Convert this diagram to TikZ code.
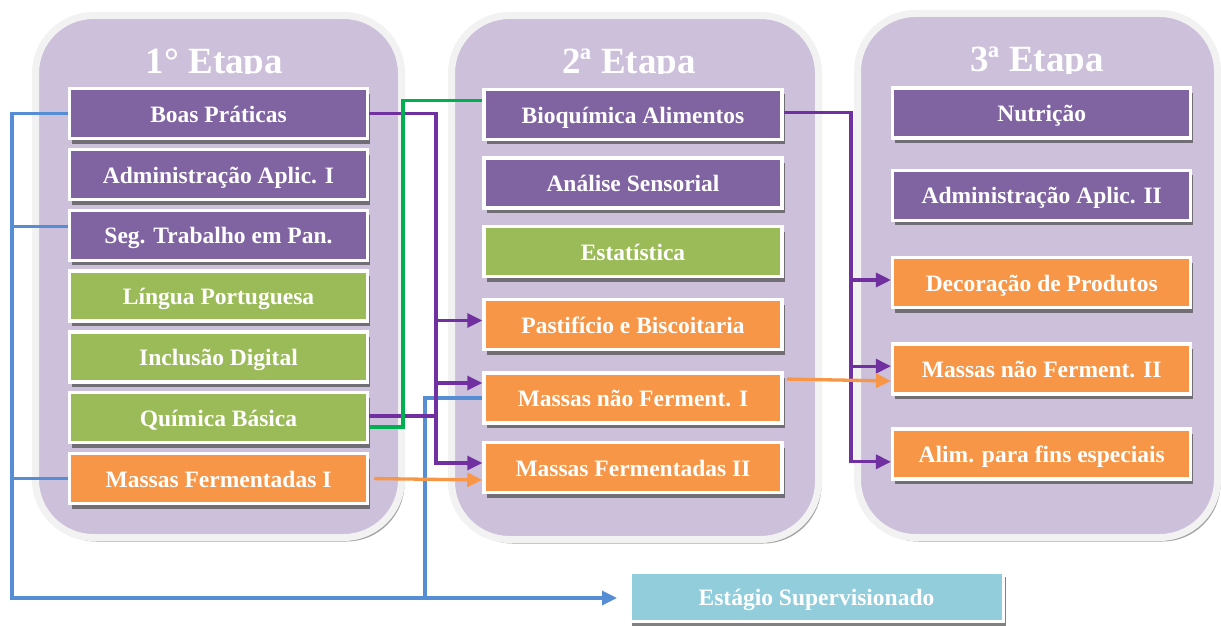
\documentclass[tikz,border=0pt]{standalone}
\usepackage{fontspec}
\setmainfont{Liberation Serif}
\usetikzlibrary{arrows.meta, positioning, shadows}

\definecolor{etapafill}{HTML}{CCC0DA}
\definecolor{etapaborda}{HTML}{F2F2F2}
\definecolor{roxo}{HTML}{8064A2}
\definecolor{verde}{HTML}{9BBB59}
\definecolor{laranja}{HTML}{F79646}
\definecolor{azulclaro}{HTML}{92CDDC}
\definecolor{linhaazul}{HTML}{558ED5}
\definecolor{linharoxa}{HTML}{7030A0}
\definecolor{linhaverde}{HTML}{00B050}

\tikzstyle{etapa} = [rectangle, rounded corners=58pt, fill=etapafill, draw=etapaborda, line width=7pt, drop shadow={shadow xshift=3pt, shadow yshift=-4pt, fill=black!60, opacity=0.6}]
\tikzstyle{titulo} = [font={\fontsize{37}{40}\selectfont\bfseries}, text=white, anchor=base, inner sep=0pt]
\tikzstyle{disciplina} = [rectangle, minimum width=298pt, minimum height=50pt, text height=19pt, text depth=2pt, text centered, draw=white, line width=3.5pt, text=white, font={\fontsize{23.5}{26}\selectfont\bfseries}, drop shadow={shadow xshift=2.5pt, shadow yshift=-5pt, fill=black!70, opacity=0.7}]
\tikzstyle{gestao} = [disciplina, fill=roxo]
\tikzstyle{basica} = [disciplina, fill=verde]
\tikzstyle{pratica} = [disciplina, fill=laranja]
\tikzstyle{bus} = [line width=3.3pt]
\tikzstyle{seta} = [line width=3.3pt, -{Triangle[length=15pt, width=14pt]}]

\begin{document}
\begin{tikzpicture}[x=1pt, y=-1pt]
    \fill[white] (0,0) rectangle (1221,626);
    \useasboundingbox (0,0) rectangle (1221,626);

    \node (etapa1) [etapa, minimum width=366pt, minimum height=522pt] at (218.5,276.5) {};
    \node (etapa2) [etapa, minimum width=367pt, minimum height=524pt] at (635,277.5) {};
    \node (etapa3) [etapa, minimum width=360pt, minimum height=524pt] at (1037.5,275.5) {};

    \begin{scope}
        \clip (0,0) rectangle (1221,74);
        \node (titulo1) [titulo] at (214.5,73.5) {1° Etapa};
        \node (titulo2) [titulo] at (629,73.5) {2ª Etapa};
        \node (titulo3) [titulo] at (1037,72) {3ª Etapa};
    \end{scope}

    % 1a etapa
    \node (boas) [gestao] at (218.5,113.7) {Boas Práticas};
    \node (adm1) [gestao, below=7.3pt of boas] {Administração Aplic. I};
    \node (seg) [gestao, below=7.3pt of adm1] {Seg. Trabalho em Pan.};
    \node (lingua) [basica, below=7.3pt of seg] {Língua Portuguesa};
    \node (inclusao) [basica, below=7.3pt of lingua] {Inclusão Digital};
    \node (quimica) [basica, below=7.3pt of inclusao] {Química Básica};
    \node (mferm1) [pratica, below=7.3pt of quimica] {Massas Fermentadas I};

    % 2a etapa
    \node (bioq) [gestao, text depth=0pt] at (633,114.3) {Bioquímica Alimentos};
    \node (analise) [gestao, below=15pt of bioq] {Análise Sensorial};
    \node (estat) [basica, below=15.2pt of analise] {Estatística};
    \node (pastif) [pratica, below=19.5pt of estat] {Pastifício e Biscoitaria};
    \node (mnferm1) [pratica, below=20pt of pastif] {Massas não Ferment. I};
    \node (mferm2) [pratica, below=16pt of mnferm1] {Massas Fermentadas II};

    % 3a etapa
    \node (nutricao) [gestao] at (1041.7,113) {Nutrição};
    \node (adm2) [gestao, below=28.8pt of nutricao] {Administração Aplic. II};
    \node (decor) [pratica, below=33.7pt of adm2] {Decoração de Produtos};
    \node (mnferm2) [pratica, below=33.2pt of decor] {Massas não Ferment. II};
    \node (alim) [pratica, below=31.1pt of mnferm2] {Alim. para fins especiais};

    \node (estagio) [disciplina, fill=azulclaro, minimum width=373.5pt, minimum height=49.5pt] at (816.5,596.5) {Estágio Supervisionado};

    \coordinate (busazul) at (12,598);
    \coordinate (busazul2) at (425,598);
    \coordinate (busroxo1) at (436,463);
    \coordinate (busroxo2) at (851,461.8);
    \coordinate (busverde) at (403,100.7);

    % estagio
    \draw [seta, linhaazul, shorten >=11pt] (boas.west) -| (busazul) -- (busazul -| estagio.west);
    \draw [bus, linhaazul] ([yshift=9pt]seg.west) -- ([yshift=9pt]seg.west -| busazul);
    \draw [bus, linhaazul] (mferm1.west) -- (mferm1.west -| busazul);
    \draw [bus, linhaazul] (mnferm1.west) -| (busazul2);

    % boas praticas e quimica -> 2a etapa
    \draw [seta, linharoxa] (boas.east) -| (busroxo1) -- ([yshift=4.5pt]mferm2.west);
    \draw [seta, linharoxa] ([yshift=4pt]pastif.west -| busroxo1) -- ([yshift=4pt]pastif.west);
    \draw [seta, linharoxa] ([yshift=15pt]mnferm1.west -| busroxo1) -- ([yshift=15pt]mnferm1.west);
    \draw [bus, linharoxa] ([yshift=1.8pt]quimica.east) -- ([yshift=1.8pt]quimica.east -| busroxo1);

    % bioquimica -> 3a etapa
    \draw [seta, linharoxa] ([yshift=2pt]bioq.east) -| (busroxo2) -- ([yshift=-8pt]alim.west);
    \draw [seta, linharoxa] ([yshift=2.5pt]decor.west -| busroxo2) -- ([yshift=2.5pt]decor.west);
    \draw [seta, linharoxa] ([yshift=3pt]mnferm2.west -| busroxo2) -- ([yshift=3pt]mnferm2.west);

    \draw [bus, linhaverde] ([yshift=-9.2pt]quimica.east) -| (busverde) -- ([yshift=13.6pt]bioq.west);

    % massas
    \draw [seta, laranja, shorten <=5pt] (mferm1.east) -- ([yshift=-12.5pt]mferm2.west);
    \draw [seta, laranja, shorten <=3pt] ([yshift=19pt]mnferm1.east) -- ([yshift=-11.8pt]mnferm2.west);
\end{tikzpicture}
\end{document}
